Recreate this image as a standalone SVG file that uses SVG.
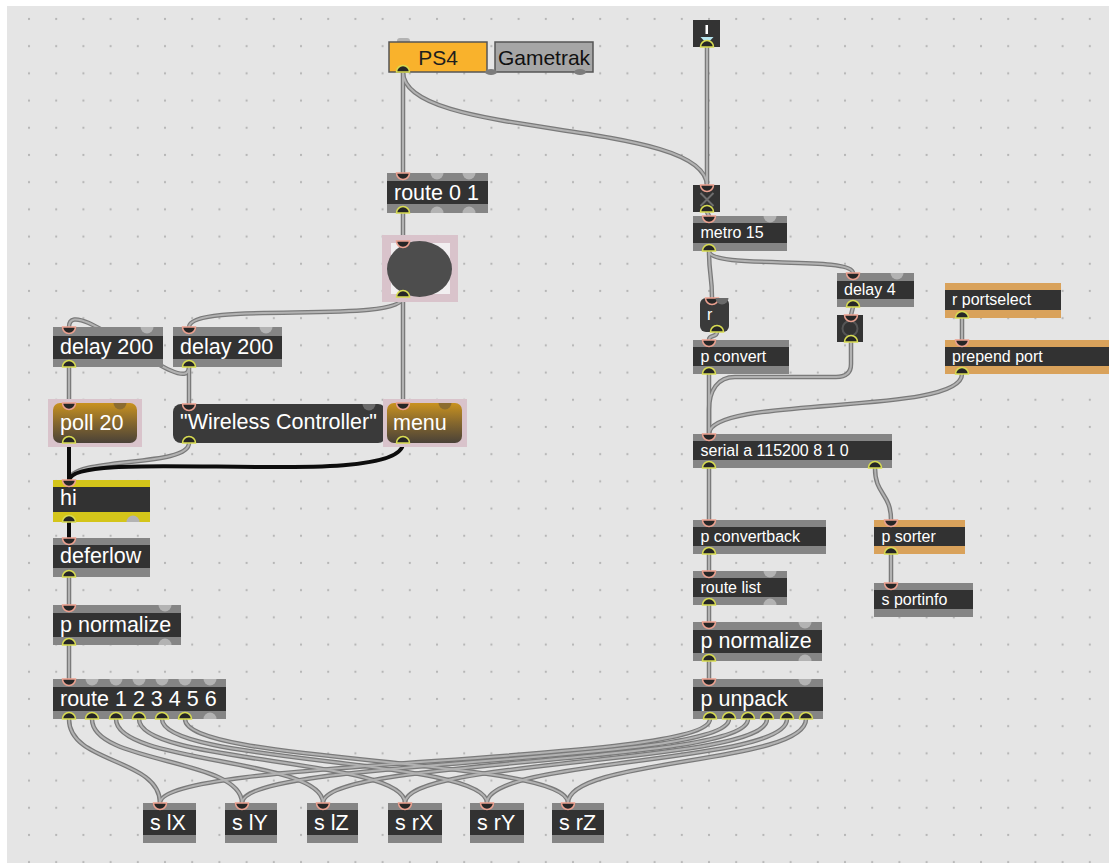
<svg xmlns="http://www.w3.org/2000/svg" xmlns:xlink="http://www.w3.org/1999/xlink" width="1109" height="863" viewBox="0 0 1109 863">
  <style>
    text { font-family: "Liberation Sans", Arial, sans-serif; fill: #ffffff; }
    .lg { font-size: 21.5px; }
    .sm { font-size: 16px; }
    .band { fill: #858585; }
    .orange { fill: #d9a25b; }
    .yellow { fill: #d4c51a; }
    .body { fill: #323232; }
    .pin { fill: #262626; stroke: #eba08f; stroke-width: 1.5; }
    .pout { fill: #262626; stroke: #d8dc52; stroke-width: 1.5; }
    .pfree { fill: #b3b3b3; }
    .sel { fill: #d9c3cb; }
    .cord-outer use { fill: none; stroke: #7a7a7a; stroke-width: 4.5; stroke-linecap: round; }
    .cord-inner use { fill: none; stroke: #b2b2b2; stroke-width: 2; stroke-linecap: round; }
    .cord-black use { fill: none; stroke: #0d0d0d; stroke-width: 4; stroke-linecap: round; }
  </style>
  <defs>
    <pattern id="grid" x="15.4" y="5.4" width="27.2" height="27.2" patternUnits="userSpaceOnUse">
      <circle cx="13.6" cy="13.6" r="1.1" fill="#b4b4b4"/>
    </pattern>
    <linearGradient id="amber" x1="0" y1="0" x2="0" y2="1">
      <stop offset="0" stop-color="#c9921f"/>
      <stop offset="0.5" stop-color="#85672e"/>
      <stop offset="1" stop-color="#4a4238"/>
    </linearGradient>
    <!-- inlet: half disc hanging below a top edge; outlet: half disc above a bottom edge -->
    <path id="in" d="M-6.5,0 A6.5,6.5 0 0 0 6.5,0 Z"/>
    <path id="out" d="M-6.5,0 A6.5,6.5 0 0 1 6.5,0 Z"/>

    <!-- patch cord geometry -->
    <path id="c-ps4-route" d="M403,72 L403,173"/>
    <path id="c-ps4-toggle" d="M403,72 C403,140 707,118 707,186"/>
    <path id="c-route-bang" d="M403,213 L403,241"/>
    <path id="c-bang-menu" d="M403,297 L403,403"/>
    <path id="c-bang-delay" d="M403,297 C403,325 189,300 189,327"/>
    <path id="c-delayR-msg" d="M189,367 L189,404"/>
    <path id="c-delayR-delayL" d="M189,367 C189,402 69,290 69,327"/>
    <path id="c-delayL-poll" d="M69,367 L69,403"/>
    <path id="c-msg-hi" d="M189,443 C189,468 69,456 69,481"/>
    <path id="c-poll-hi" d="M69,443 L69,481"/>
    <path id="c-menu-hi" d="M403,443 C403,492 69,445 69,481"/>
    <path id="c-hi-defer" d="M69,522 L69,538"/>
    <path id="c-defer-norm" d="M69,577 L69,605"/>
    <path id="c-norm-route" d="M69,645 L69,679"/>
    <path id="c-load-toggle" d="M707,47 L707,186"/>
    <path id="c-toggle-metro" d="M707,212 L709,216"/>
    <path id="c-metro-r" d="M709,251 C709,275 712,275 712,298"/>
    <path id="c-metro-delay" d="M709,251 C709,270 853,255 853,273"/>
    <path id="c-r-conv" d="M717,332 C717,338 709,334 709,340"/>
    <path id="c-delay-box" d="M853,307 L851,315"/>
    <path id="c-box-serial" d="M851,342 L851,364 C851,373 846,377 836,377 L735,377 C718,377 709,390 709,410 L709,434"/>
    <path id="c-conv-serial" d="M709,374 L709,434"/>
    <path id="c-prep-serial" d="M962,374 C962,416 709,395 709,434"/>
    <path id="c-rport-prep" d="M962,318 L962,340"/>
    <path id="c-serial-back" d="M709,468 L709,520"/>
    <path id="c-serial-sorter" d="M875,468 C875,495 891,493 891,520"/>
    <path id="c-sorter-info" d="M891,554 L891,583"/>
    <path id="c-back-rlist" d="M709,554 L709,571"/>
    <path id="c-rlist-norm" d="M709,605 L709,622"/>
    <path id="c-norm-unpack" d="M709,661 L709,679"/>
    <path id="f1" d="M69,719 C69,764 160,758 160,803"/>
    <path id="f2" d="M92,719 C92,764 242,758 242,803"/>
    <path id="f3" d="M116,719 C116,764 323,758 323,803"/>
    <path id="f4" d="M139,719 C139,764 405,758 405,803"/>
    <path id="f5" d="M162,719 C162,764 487,758 487,803"/>
    <path id="f6" d="M185,719 C185,764 568,758 568,803"/>
    <path id="g1" d="M710,719 C710,764 160,758 160,803"/>
    <path id="g2" d="M729,719 C729,764 242,758 242,803"/>
    <path id="g3" d="M748,719 C748,764 323,758 323,803"/>
    <path id="g4" d="M767,719 C767,764 405,758 405,803"/>
    <path id="g5" d="M787,719 C787,764 487,758 487,803"/>
    <path id="g6" d="M806,719 C806,764 568,758 568,803"/>
  </defs>

  <!-- canvas -->
  <rect x="0" y="0" width="1109" height="863" fill="#ffffff"/>
  <rect x="7" y="6" width="1102" height="857" fill="#e5e5e5"/>
  <rect x="7" y="6" width="1102" height="857" fill="url(#grid)"/>

  <!-- patch cords -->
  <g id="connectors">
    <g class="cord-outer">
      <use href="#c-ps4-route"/><use href="#c-ps4-toggle"/><use href="#c-route-bang"/>
      <use href="#c-bang-menu"/><use href="#c-bang-delay"/><use href="#c-delayR-msg"/>
      <use href="#c-delayR-delayL"/><use href="#c-delayL-poll"/><use href="#c-msg-hi"/>
      <use href="#c-defer-norm"/><use href="#c-norm-route"/>
      <use href="#c-load-toggle"/><use href="#c-toggle-metro"/><use href="#c-metro-r"/>
      <use href="#c-metro-delay"/><use href="#c-r-conv"/><use href="#c-delay-box"/>
      <use href="#c-box-serial"/><use href="#c-conv-serial"/><use href="#c-prep-serial"/>
      <use href="#c-rport-prep"/><use href="#c-serial-back"/><use href="#c-serial-sorter"/>
      <use href="#c-sorter-info"/><use href="#c-back-rlist"/><use href="#c-rlist-norm"/>
      <use href="#c-norm-unpack"/>
      <use href="#f1"/><use href="#f2"/><use href="#f3"/><use href="#f4"/><use href="#f5"/><use href="#f6"/>
      <use href="#g1"/><use href="#g2"/><use href="#g3"/><use href="#g4"/><use href="#g5"/><use href="#g6"/>
    </g>
    <g class="cord-inner">
      <use href="#c-ps4-route"/><use href="#c-ps4-toggle"/><use href="#c-route-bang"/>
      <use href="#c-bang-menu"/><use href="#c-bang-delay"/><use href="#c-delayR-msg"/>
      <use href="#c-delayR-delayL"/><use href="#c-delayL-poll"/><use href="#c-msg-hi"/>
      <use href="#c-defer-norm"/><use href="#c-norm-route"/>
      <use href="#c-load-toggle"/><use href="#c-toggle-metro"/><use href="#c-metro-r"/>
      <use href="#c-metro-delay"/><use href="#c-r-conv"/><use href="#c-delay-box"/>
      <use href="#c-box-serial"/><use href="#c-conv-serial"/><use href="#c-prep-serial"/>
      <use href="#c-rport-prep"/><use href="#c-serial-back"/><use href="#c-serial-sorter"/>
      <use href="#c-sorter-info"/><use href="#c-back-rlist"/><use href="#c-rlist-norm"/>
      <use href="#c-norm-unpack"/>
      <use href="#f1"/><use href="#f2"/><use href="#f3"/><use href="#f4"/><use href="#f5"/><use href="#f6"/>
      <use href="#g1"/><use href="#g2"/><use href="#g3"/><use href="#g4"/><use href="#g5"/><use href="#g6"/>
    </g>
    <g class="cord-black">
      <use href="#c-poll-hi"/><use href="#c-menu-hi"/><use href="#c-hi-defer"/>
    </g>
  </g>

  <!-- tab: PS4 / Gametrak -->
  <g id="tab">
    <rect x="397" y="38" width="13" height="6" rx="3" class="pfree" fill="#8a8a8a"/>
    <rect x="389" y="42" width="98" height="30" fill="#f9b22c" stroke="#555555" stroke-width="1.5"/>
    <rect x="495" y="42" width="98" height="30" fill="#a6a6a6" stroke="#555555" stroke-width="1.5"/>
    <text x="438" y="65" font-size="21" text-anchor="middle" style="fill:#1e1e1e">PS4</text>
    <text x="544" y="65" font-size="21" text-anchor="middle" style="fill:#111111">Gametrak</text>
    <ellipse cx="491" cy="72" rx="6" ry="3" fill="#7c7c7c"/>
    <ellipse cx="580" cy="72" rx="6" ry="3" fill="#7c7c7c"/>
    <use href="#out" x="403" y="72" class="pout"/>
  </g>

  <!-- route 0 1 -->
  <g id="route01">
    <rect x="387" y="173" width="101" height="40" class="band"/>
    <rect x="387" y="181" width="101" height="23" class="body"/>
    <text x="394" y="200" class="lg">route 0 1</text>
    <use href="#in" x="403" y="173" class="pin"/>
    <use href="#in" x="437" y="173" class="pfree"/>
    <use href="#in" x="469" y="173" class="pfree"/>
    <use href="#out" x="403" y="213" class="pout"/>
    <use href="#out" x="437" y="213" class="pfree"/>
    <use href="#out" x="469" y="213" class="pfree"/>
  </g>

  <!-- bang -->
  <g id="bang">
    <rect x="382" y="235" width="76" height="67" class="sel"/>
    <rect x="391" y="243" width="59" height="51" fill="#f1eef0"/>
    <ellipse cx="419.5" cy="269" rx="32.5" ry="28" fill="#4d4d4d"/>
    <use href="#in" x="403" y="241" class="pin"/>
    <use href="#out" x="403" y="297" class="pout"/>
  </g>

  <!-- delay 200 (left) -->
  <g id="delayL">
    <rect x="53" y="327" width="110" height="40" class="band"/>
    <rect x="53" y="336" width="110" height="23" class="body"/>
    <text x="60" y="354" class="lg">delay 200</text>
    <use href="#in" x="69" y="327" class="pin"/>
    <use href="#in" x="147" y="327" class="pfree"/>
    <use href="#out" x="69" y="367" class="pout"/>
  </g>

  <!-- delay 200 (right) -->
  <g id="delayR">
    <rect x="173" y="327" width="109" height="40" class="band"/>
    <rect x="173" y="336" width="109" height="23" class="body"/>
    <text x="180" y="354" class="lg">delay 200</text>
    <use href="#in" x="189" y="327" class="pin"/>
    <use href="#in" x="266" y="327" class="pfree"/>
    <use href="#out" x="189" y="367" class="pout"/>
  </g>

  <!-- poll 20 -->
  <g id="poll">
    <rect x="48" y="399" width="94" height="48" class="sel"/>
    <rect x="53" y="403" width="84" height="40" rx="7" fill="url(#amber)"/>
    <text x="60" y="430" class="lg">poll 20</text>
    <use href="#in" x="69" y="403" class="pin"/>
    <use href="#in" x="120" y="403" fill="#8c6c30"/>
    <use href="#out" x="69" y="443" class="pout"/>
  </g>

  <!-- message box -->
  <g id="message">
    <rect x="173" y="404" width="213" height="39" rx="8" fill="#3a3a3a"/>
    <text x="180" y="429" class="lg">"Wireless Controller"</text>
    <use href="#in" x="189" y="404" class="pin"/>
    <use href="#in" x="369" y="404" fill="#6a6a6a"/>
    <use href="#out" x="189" y="443" class="pout"/>
  </g>

  <!-- menu -->
  <g id="menu">
    <rect x="383" y="399" width="84" height="48" class="sel"/>
    <rect x="387" y="403" width="75" height="40" rx="7" fill="url(#amber)"/>
    <text x="393" y="430" class="lg">menu</text>
    <use href="#in" x="403" y="403" class="pin"/>
    <use href="#in" x="445" y="403" fill="#8c6c30"/>
    <use href="#out" x="403" y="443" class="pout"/>
  </g>

  <!-- hi -->
  <g id="hi">
    <rect x="53" y="480" width="97" height="42" class="yellow"/>
    <rect x="53" y="487" width="97" height="25" class="body"/>
    <text x="60" y="505" class="lg">hi</text>
    <use href="#in" x="69" y="480" class="pin"/>
    <use href="#out" x="69" y="522" class="pout"/>
    <use href="#out" x="133" y="522" class="pfree"/>
  </g>

  <!-- deferlow -->
  <g id="deferlow">
    <rect x="53" y="538" width="97" height="39" class="band"/>
    <rect x="53" y="545" width="97" height="23" class="body"/>
    <text x="60" y="563" class="lg">deferlow</text>
    <use href="#in" x="69" y="538" class="pin"/>
    <use href="#out" x="69" y="577" class="pout"/>
  </g>

  <!-- p normalize (left) -->
  <g id="normalizeL">
    <rect x="53" y="605" width="128" height="40" class="band"/>
    <rect x="53" y="613" width="128" height="24" class="body"/>
    <text x="60" y="632" class="lg">p normalize</text>
    <use href="#in" x="69" y="605" class="pin"/>
    <use href="#in" x="165" y="605" class="pfree"/>
    <use href="#out" x="69" y="645" class="pout"/>
    <use href="#out" x="165" y="645" class="pfree"/>
  </g>

  <!-- route 1 2 3 4 5 6 -->
  <g id="route16">
    <rect x="53" y="679" width="173" height="40" class="band"/>
    <rect x="53" y="687" width="173" height="24" class="body"/>
    <text x="60" y="706" class="lg">route 1 2 3 4 5 6</text>
    <use href="#in" x="69" y="679" class="pin"/>
    <use href="#in" x="92" y="679" class="pfree"/>
    <use href="#in" x="116" y="679" class="pfree"/>
    <use href="#in" x="139" y="679" class="pfree"/>
    <use href="#in" x="162" y="679" class="pfree"/>
    <use href="#in" x="185" y="679" class="pfree"/>
    <use href="#in" x="210" y="679" class="pfree"/>
    <use href="#out" x="69" y="719" class="pout"/>
    <use href="#out" x="92" y="719" class="pout"/>
    <use href="#out" x="116" y="719" class="pout"/>
    <use href="#out" x="139" y="719" class="pout"/>
    <use href="#out" x="162" y="719" class="pout"/>
    <use href="#out" x="185" y="719" class="pout"/>
    <use href="#out" x="210" y="719" class="pfree"/>
  </g>

  <!-- send objects -->
  <g id="s-lX">
    <rect x="143" y="803" width="53" height="40" class="band"/>
    <rect x="143" y="810" width="53" height="25" class="body"/>
    <text x="150" y="830" class="lg">s lX</text>
    <use href="#in" x="160" y="803" class="pin"/>
  </g>
  <g id="s-lY">
    <rect x="225" y="803" width="52" height="40" class="band"/>
    <rect x="225" y="810" width="52" height="25" class="body"/>
    <text x="232" y="830" class="lg">s lY</text>
    <use href="#in" x="242" y="803" class="pin"/>
  </g>
  <g id="s-lZ">
    <rect x="307" y="803" width="51" height="40" class="band"/>
    <rect x="307" y="810" width="51" height="25" class="body"/>
    <text x="314" y="830" class="lg">s lZ</text>
    <use href="#in" x="323" y="803" class="pin"/>
  </g>
  <g id="s-rX">
    <rect x="388" y="803" width="54" height="40" class="band"/>
    <rect x="388" y="810" width="54" height="25" class="body"/>
    <text x="395" y="830" class="lg">s rX</text>
    <use href="#in" x="405" y="803" class="pin"/>
  </g>
  <g id="s-rY">
    <rect x="470" y="803" width="54" height="40" class="band"/>
    <rect x="470" y="810" width="54" height="25" class="body"/>
    <text x="477" y="830" class="lg">s rY</text>
    <use href="#in" x="487" y="803" class="pin"/>
  </g>
  <g id="s-rZ">
    <rect x="552" y="803" width="52" height="40" class="band"/>
    <rect x="552" y="810" width="52" height="25" class="body"/>
    <text x="559" y="830" class="lg">s rZ</text>
    <use href="#in" x="568" y="803" class="pin"/>
  </g>

  <!-- loadbang-style button -->
  <g id="loader">
    <rect x="693" y="20" width="27" height="27" fill="#333333"/>
    <rect x="705.5" y="25" width="2.5" height="9" fill="#ffffff"/>
    <polygon points="700.5,37 713.5,37 707,44" fill="#b7e6f0"/>
    <use href="#out" x="707" y="47" class="pout"/>
  </g>

  <!-- toggle -->
  <g id="toggle">
    <rect x="693" y="185" width="27" height="27" fill="#333333"/>
    <path d="M700.5,193 L713.5,206 M713.5,193 L700.5,206" stroke="#6e6e6e" stroke-width="2" fill="none"/>
    <use href="#in" x="707" y="185" class="pin"/>
    <use href="#out" x="707" y="212" class="pout"/>
  </g>

  <!-- metro 15 -->
  <g id="metro">
    <rect x="693" y="216" width="94" height="35" class="band"/>
    <rect x="693" y="223" width="94" height="20" class="body"/>
    <text x="700.5" y="238" class="sm">metro 15</text>
    <use href="#in" x="709" y="216" class="pin"/>
    <use href="#in" x="770" y="216" class="pfree"/>
    <use href="#out" x="709" y="251" class="pout"/>
  </g>

  <!-- delay 4 -->
  <g id="delay4">
    <rect x="837" y="273" width="77" height="34" class="band"/>
    <rect x="837" y="281" width="77" height="18" class="body"/>
    <text x="844" y="295" class="sm">delay 4</text>
    <use href="#in" x="853" y="273" class="pin"/>
    <use href="#in" x="897" y="273" class="pfree"/>
    <use href="#out" x="853" y="307" class="pout"/>
  </g>

  <!-- small button under delay 4 -->
  <g id="blink">
    <rect x="837" y="315" width="26" height="27" fill="#333333"/>
    <circle cx="850" cy="328.5" r="7.5" fill="none" stroke="#555555" stroke-width="2"/>
    <use href="#in" x="851" y="315" class="pin"/>
    <use href="#out" x="851" y="342" class="pout"/>
  </g>

  <!-- r -->
  <g id="receive">
    <rect x="700" y="298" width="29" height="34" rx="6" fill="#3a3a3a"/>
    <text x="707" y="320" class="sm">r</text>
    <use href="#in" x="712" y="298" class="pin"/>
    <use href="#in" x="722" y="298" fill="#6a6a6a"/>
    <use href="#out" x="717" y="332" class="pout"/>
  </g>

  <!-- p convert -->
  <g id="convert">
    <rect x="693" y="340" width="96" height="34" class="band"/>
    <rect x="693" y="347" width="96" height="19" class="body"/>
    <text x="700.5" y="362" class="sm">p convert</text>
    <use href="#in" x="709" y="340" class="pin"/>
    <use href="#out" x="709" y="374" class="pout"/>
  </g>

  <!-- r portselect -->
  <g id="portselect">
    <rect x="945" y="283" width="116" height="35" class="orange"/>
    <rect x="945" y="290" width="116" height="20" class="body"/>
    <text x="952" y="305" class="sm">r portselect</text>
    <use href="#out" x="962" y="318" class="pout"/>
  </g>

  <!-- prepend port -->
  <g id="prepend">
    <rect x="945" y="340" width="170" height="34" class="orange"/>
    <rect x="945" y="347" width="170" height="19" class="body"/>
    <text x="952" y="362" class="sm">prepend port</text>
    <use href="#in" x="962" y="340" class="pin"/>
    <use href="#out" x="962" y="374" class="pout"/>
  </g>

  <!-- serial -->
  <g id="serial">
    <rect x="693" y="434" width="199" height="34" class="band"/>
    <rect x="693" y="441" width="199" height="19" class="body"/>
    <text x="700.5" y="456" class="sm">serial a 115200 8 1 0</text>
    <use href="#in" x="709" y="434" class="pin"/>
    <use href="#out" x="709" y="468" class="pout"/>
    <use href="#out" x="875" y="468" class="pout"/>
  </g>

  <!-- p convertback -->
  <g id="convertback">
    <rect x="693" y="520" width="133" height="34" class="band"/>
    <rect x="693" y="527" width="133" height="19" class="body"/>
    <text x="700.5" y="542" class="sm">p convertback</text>
    <use href="#in" x="709" y="520" class="pin"/>
    <use href="#out" x="709" y="554" class="pout"/>
  </g>

  <!-- p sorter -->
  <g id="sorter">
    <rect x="874" y="520" width="91" height="34" class="orange"/>
    <rect x="874" y="527" width="91" height="19" class="body"/>
    <text x="881.5" y="542" class="sm">p sorter</text>
    <use href="#in" x="891" y="520" class="pin"/>
    <use href="#out" x="891" y="554" class="pout"/>
  </g>

  <!-- s portinfo -->
  <g id="portinfo">
    <rect x="874" y="583" width="99" height="34" class="band"/>
    <rect x="874" y="590" width="99" height="19" class="body"/>
    <text x="881.5" y="605" class="sm">s portinfo</text>
    <use href="#in" x="891" y="583" class="pin"/>
  </g>

  <!-- route list -->
  <g id="routelist">
    <rect x="693" y="571" width="94" height="34" class="band"/>
    <rect x="693" y="578" width="94" height="19" class="body"/>
    <text x="700.5" y="593" class="sm">route list</text>
    <use href="#in" x="709" y="571" class="pin"/>
    <use href="#in" x="770" y="571" class="pfree"/>
    <use href="#out" x="709" y="605" class="pout"/>
    <use href="#out" x="770" y="605" class="pfree"/>
  </g>

  <!-- p normalize (right) -->
  <g id="normalizeR">
    <rect x="693" y="622" width="129" height="39" class="band"/>
    <rect x="693" y="630" width="129" height="23" class="body"/>
    <text x="700.5" y="648" class="lg">p normalize</text>
    <use href="#in" x="709" y="622" class="pin"/>
    <use href="#in" x="805" y="622" class="pfree"/>
    <use href="#out" x="709" y="661" class="pout"/>
    <use href="#out" x="805" y="661" class="pfree"/>
  </g>

  <!-- p unpack -->
  <g id="unpack">
    <rect x="693" y="679" width="130" height="40" class="band"/>
    <rect x="693" y="687" width="130" height="24" class="body"/>
    <text x="700.5" y="706" class="lg">p unpack</text>
    <use href="#in" x="709" y="679" class="pin"/>
    <use href="#in" x="805" y="679" class="pfree"/>
    <use href="#out" x="710" y="719" class="pout"/>
    <use href="#out" x="729" y="719" class="pout"/>
    <use href="#out" x="748" y="719" class="pout"/>
    <use href="#out" x="767" y="719" class="pout"/>
    <use href="#out" x="787" y="719" class="pout"/>
    <use href="#out" x="806" y="719" class="pout"/>
  </g>
</svg>
